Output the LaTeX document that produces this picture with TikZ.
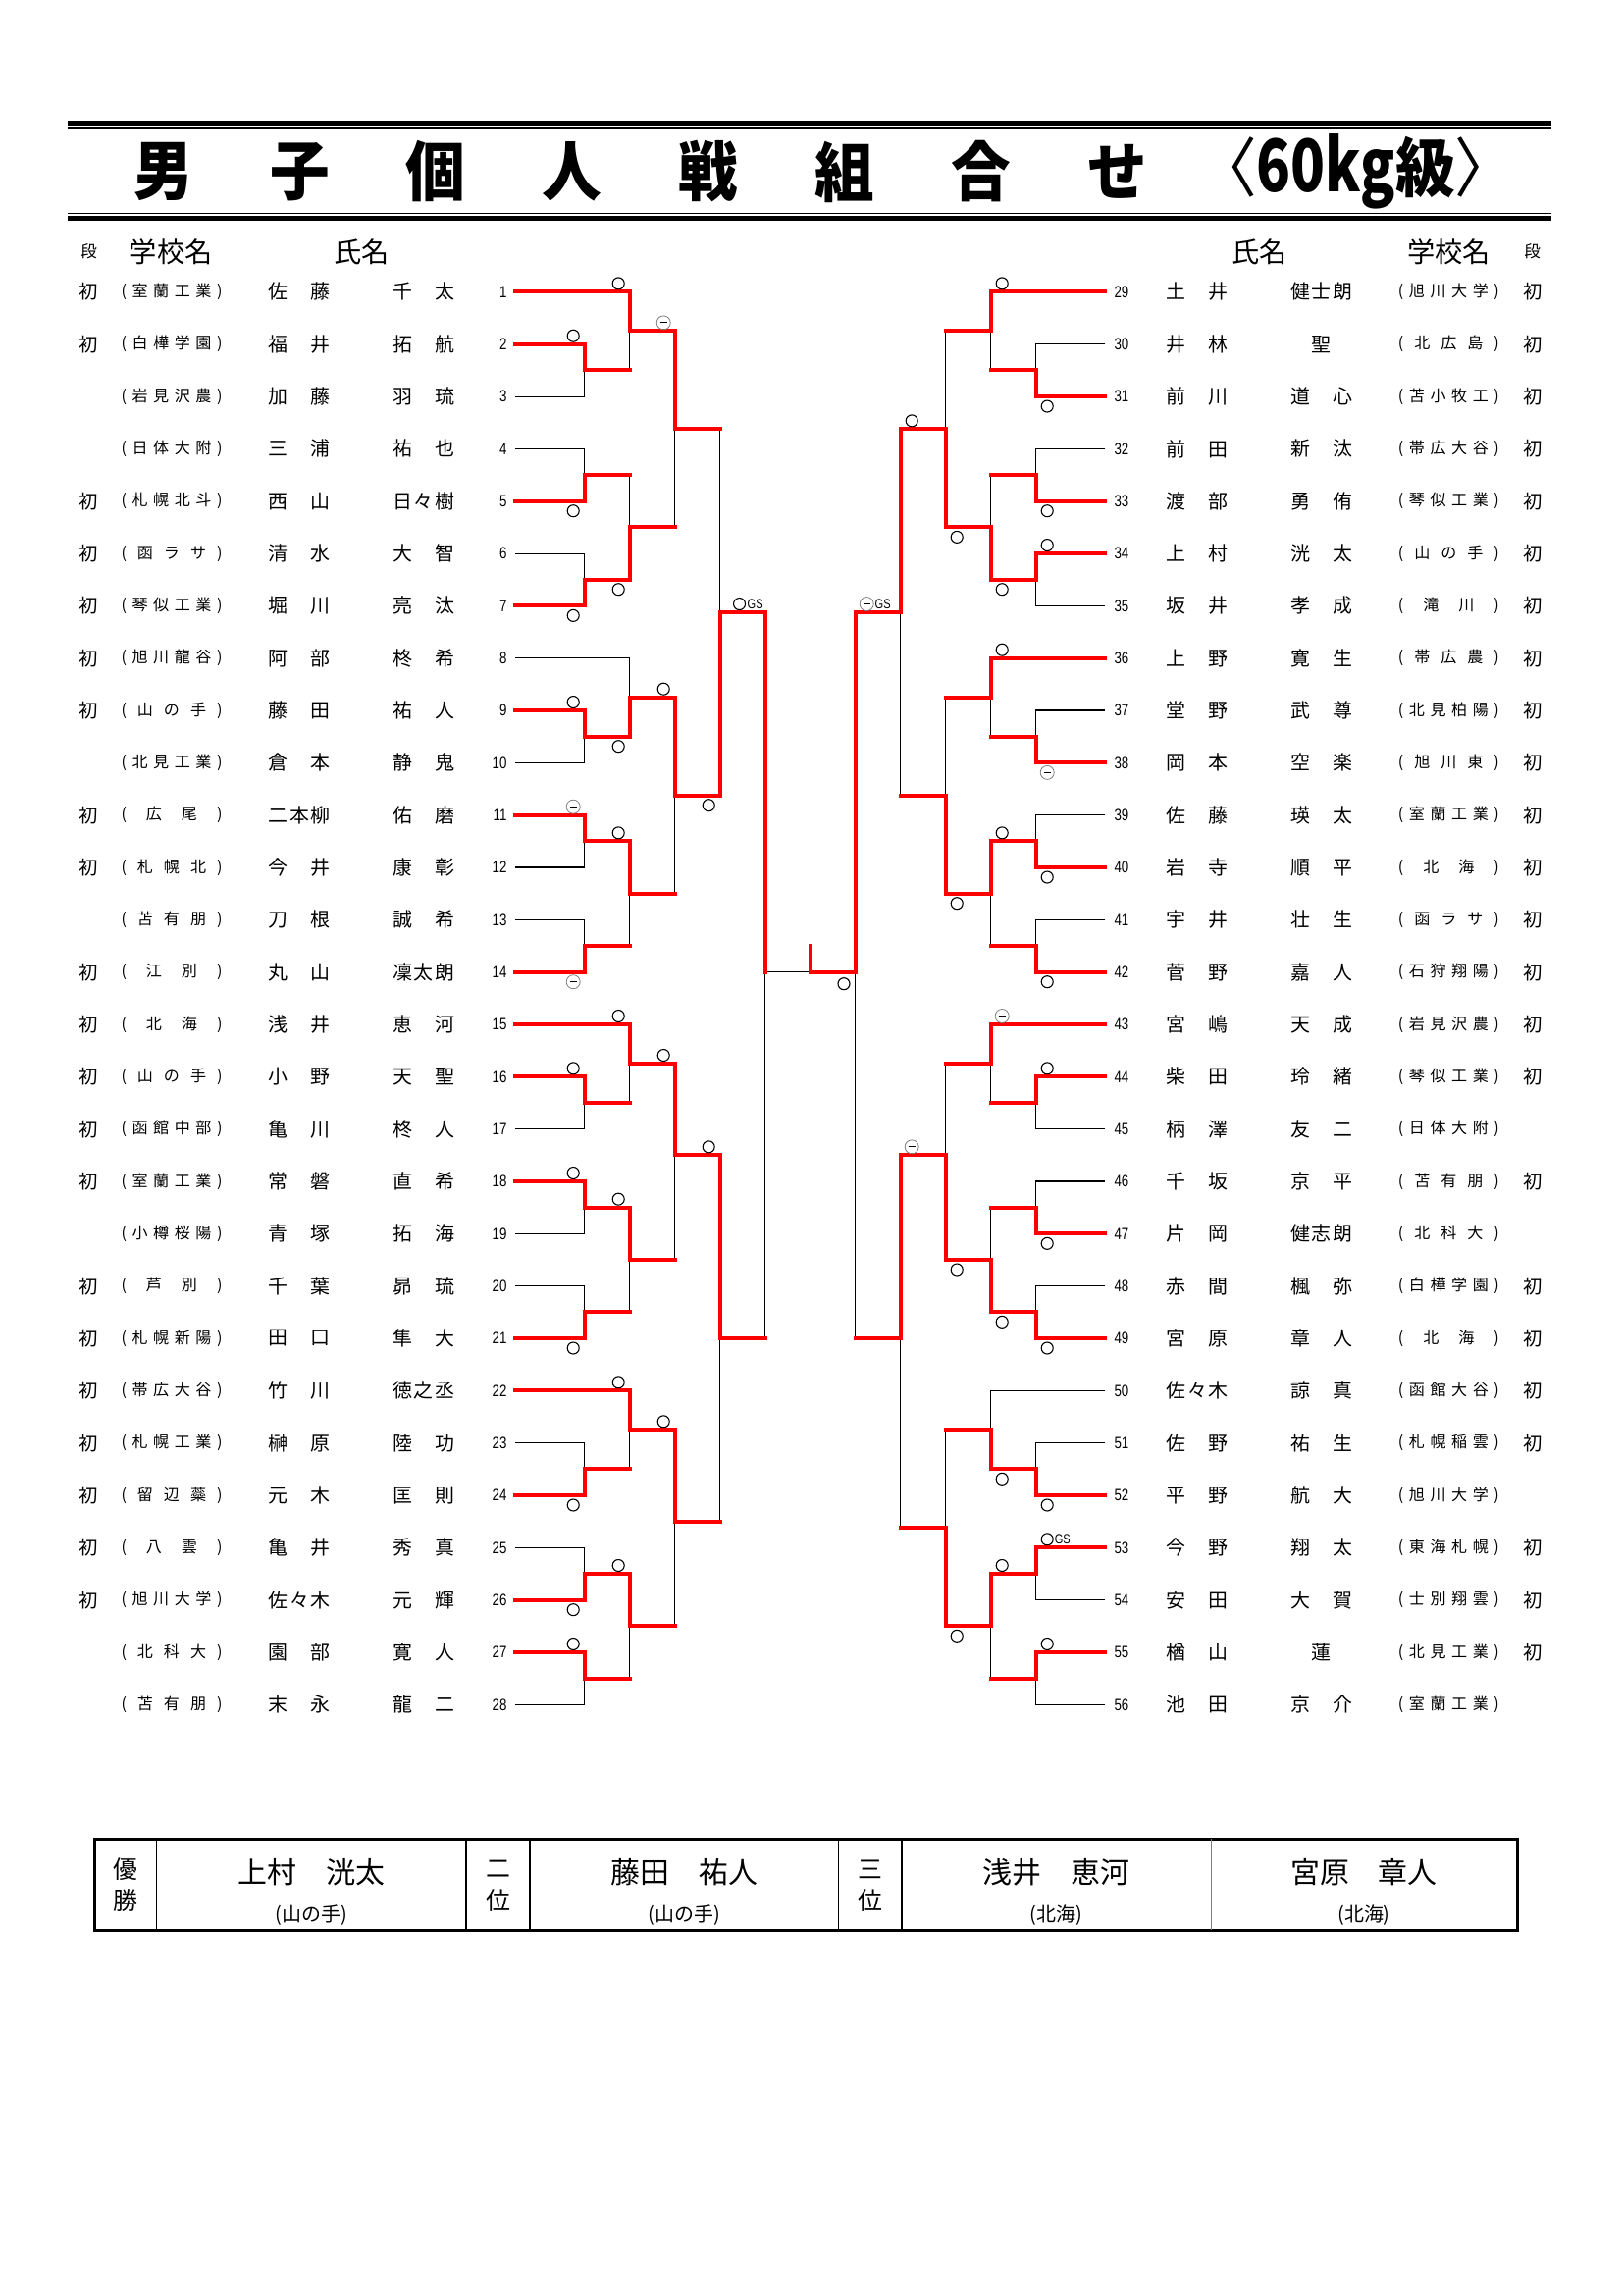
\documentclass[tikz,border=0pt]{standalone}
\usepackage{fontspec}
\usepackage{graphicx}
\setmainfont{Noto Sans CJK JP}
\newfontfamily\numfont[FakeStretch=0.8]{Liberation Sans}
\newfontfamily\titlefont[FakeStretch=0.92]{Noto Sans CJK JP}
\usetikzlibrary{calc,positioning}
\newdimen\px \px=0.12697mm
\newcommand{\Y}[1]{297.4+53.33*(#1-1)}
\newcommand{\wincolor}{red}
\newcommand{\thickred}{4\px}
\newcommand{\thinblack}{1.1\px}
\def\spread#1{\spreadi#1\spreadend}
\def\spreadi#1#2\spreadend{#1\ifx\relax#2\relax\else\hfill\spreadi#2\spreadend\fi}
\tikzset{
  dan/.style={font=\fontsize{7}{8}\selectfont, inner sep=0pt},
  school/.style={font=\fontsize{5.8}{7}\selectfont, inner sep=0pt},
  pname/.style={font=\fontsize{7.2}{8}\selectfont, inner sep=0pt},
  num/.style={font=\numfont\fontsize{6}{7}\selectfont, inner sep=0pt},
  head/.style={font=\fontsize{10.2}{11}\selectfont, inner sep=0pt},
  headsmall/.style={font=\fontsize{6}{7}\selectfont, inner sep=0pt},
  ttl/.style={font=\titlefont\bfseries\fontsize{23.8}{26}\selectfont, inner sep=0pt},
  tname/.style={font=\fontsize{10.8}{12}\selectfont, inner sep=0pt},
  tschool/.style={font=\fontsize{7.2}{8}\selectfont, inner sep=0pt},
  tlab/.style={font=\fontsize{9}{10}\selectfont, inner sep=0pt},
  bline/.style={line width=\thinblack},
  rline/.style={\wincolor, line width=\thickred, line join=miter, line cap=rect},
  markc/.style={circle, draw, line width=1.1\px, inner sep=0pt, minimum size=12\px},
  markm/.style={circle, draw=gray, line width=0.8\px, inner sep=0pt, minimum size=14\px,
    path picture={\draw[black, line width=1.2\px] ([xshift=-3.5\px]path picture bounding box.center) -- ([xshift=3.5\px]path picture bounding box.center);}},
  gs/.style={font=\numfont\fontsize{5}{6}\selectfont, inner sep=0pt},
  wl/.style={xshift=-11.5\px}, wr/.style={xshift=11.5\px},
  wup/.style={yshift=8.5\px}, wdn/.style={yshift=-10\px}
}
\newcommand{\leftrow}[5]{%
  \node[dan] (d#1) at (90,{\Y{#1}}) {#2};
  \node[school] (s#1) at (175,{\Y{#1}}) {\makebox[103\px]{(\hfill\spread{#3}\hfill)}};
  \node[pname] (f#1) at (305,{\Y{#1}}) {\makebox[63.4\px]{\hfil\spread{#4}\hfil}};
  \node[pname] (g#1) at (431.7,{\Y{#1}}) {\makebox[63.4\px]{\hfil\spread{#5}\hfil}};
  \node[num, anchor=east] (n#1) at (517,{\Y{#1}}) {#1};
  \coordinate (p#1) at (525,{\Y{#1}});
}
\newcommand{\rightrow}[5]{%
  \node[num, anchor=west] (n#1) at (1135,{\Y{#1-28}}) {#1};
  \coordinate (p#1) at (1126.4,{\Y{#1-28}});
  \node[pname] (f#1) at (1220,{\Y{#1-28}}) {\makebox[63.4\px]{\hfil\spread{#2}\hfil}};
  \node[pname] (g#1) at (1346.7,{\Y{#1-28}}) {\makebox[63.4\px]{\hfil\spread{#3}\hfil}};
  \node[school] (s#1) at (1476.4,{\Y{#1-28}}) {\makebox[103\px]{(\hfill\spread{#4}\hfill)}};
  \node[dan] (d#1) at (1561.7,{\Y{#1-28}}) {#5};
}

\begin{document}
\begin{tikzpicture}[x=0.12697mm, y=-0.12697mm]
\fill[white] (0,0) rectangle (1654,2339);
\useasboundingbox (0,0) rectangle (1654,2339);
%title
\draw[line width=4.5\px] (69.3,125.3) -- (1580.7,125.3);
\draw[line width=1.5\px] (69.3,130.2) -- (1580.7,130.2);
\draw[line width=1.5\px] (69.3,217.7) -- (1580.7,217.7);
\draw[line width=4.8\px] (69.3,222.8) -- (1580.7,222.8);
\node[ttl] (t1) at (167,175) {男};
\node[ttl] (t2) at (306,175) {子};
\node[ttl] (t3) at (444,175) {個};
\node[ttl] (t4) at (583,175) {人};
\node[ttl] (t5) at (722,175) {戦};
\node[ttl] (t6) at (861,175) {組};
\node[ttl] (t7) at (1000,175) {合};
\node[ttl] (t8) at (1139,175) {せ};
\node[ttl] (t9) at (1381.7,175) {{\mdseries〈}\scalebox{0.95}[1.12]{60kg}級{\mdseries〉}};
%heads
\node[headsmall] (h1) at (90.7,256.7) {段};
\node[head] (h2) at (174.3,256.7) {学校名};
\node[head] (h3) at (368.3,256.7) {氏名};
\node[head] (h4) at (1283.3,256.7) {氏名};
\node[head] (h5) at (1476.7,256.7) {学校名};
\node[headsmall] (h6) at (1561.7,256.7) {段};
%left
\leftrow{1}{初}{室蘭工業}{佐藤}{千太}
\leftrow{2}{初}{白樺学園}{福井}{拓航}
\leftrow{3}{}{岩見沢農}{加藤}{羽琉}
\leftrow{4}{}{日体大附}{三浦}{祐也}
\leftrow{5}{初}{札幌北斗}{西山}{日々樹}
\leftrow{6}{初}{函ラサ}{清水}{大智}
\leftrow{7}{初}{琴似工業}{堀川}{亮汰}
\leftrow{8}{初}{旭川龍谷}{阿部}{柊希}
\leftrow{9}{初}{山の手}{藤田}{祐人}
\leftrow{10}{}{北見工業}{倉本}{静鬼}
\leftrow{11}{初}{広尾}{二本柳}{佑磨}
\leftrow{12}{初}{札幌北}{今井}{康彰}
\leftrow{13}{}{苫有朋}{刀根}{誠希}
\leftrow{14}{初}{江別}{丸山}{凜太朗}
\leftrow{15}{初}{北海}{浅井}{恵河}
\leftrow{16}{初}{山の手}{小野}{天聖}
\leftrow{17}{初}{函館中部}{亀川}{柊人}
\leftrow{18}{初}{室蘭工業}{常磐}{直希}
\leftrow{19}{}{小樽桜陽}{青塚}{拓海}
\leftrow{20}{初}{芦別}{千葉}{昴琉}
\leftrow{21}{初}{札幌新陽}{田口}{隼大}
\leftrow{22}{初}{帯広大谷}{竹川}{徳之丞}
\leftrow{23}{初}{札幌工業}{榊原}{陸功}
\leftrow{24}{初}{留辺蘂}{元木}{匡則}
\leftrow{25}{初}{八雲}{亀井}{秀真}
\leftrow{26}{初}{旭川大学}{佐々木}{元輝}
\leftrow{27}{}{北科大}{園部}{寛人}
\leftrow{28}{}{苫有朋}{末永}{龍二}
%right
\rightrow{29}{土井}{健士朗}{旭川大学}{初}
\rightrow{30}{井林}{聖}{北広島}{初}
\rightrow{31}{前川}{道心}{苫小牧工}{初}
\rightrow{32}{前田}{新汰}{帯広大谷}{初}
\rightrow{33}{渡部}{勇侑}{琴似工業}{初}
\rightrow{34}{上村}{洸太}{山の手}{初}
\rightrow{35}{坂井}{孝成}{滝川}{初}
\rightrow{36}{上野}{寛生}{帯広農}{初}
\rightrow{37}{堂野}{武尊}{北見柏陽}{初}
\rightrow{38}{岡本}{空楽}{旭川東}{初}
\rightrow{39}{佐藤}{瑛太}{室蘭工業}{初}
\rightrow{40}{岩寺}{順平}{北海}{初}
\rightrow{41}{宇井}{壮生}{函ラサ}{初}
\rightrow{42}{菅野}{嘉人}{石狩翔陽}{初}
\rightrow{43}{宮嶋}{天成}{岩見沢農}{初}
\rightrow{44}{柴田}{玲緒}{琴似工業}{初}
\rightrow{45}{柄澤}{友二}{日体大附}{}
\rightrow{46}{千坂}{京平}{苫有朋}{初}
\rightrow{47}{片岡}{健志朗}{北科大}{}
\rightrow{48}{赤間}{楓弥}{白樺学園}{初}
\rightrow{49}{宮原}{章人}{北海}{初}
\rightrow{50}{佐々木}{諒真}{函館大谷}{初}
\rightrow{51}{佐野}{祐生}{札幌稲雲}{初}
\rightrow{52}{平野}{航大}{旭川大学}{}
\rightrow{53}{今野}{翔太}{東海札幌}{初}
\rightrow{54}{安田}{大賀}{士別翔雲}{初}
\rightrow{55}{楢山}{蓮}{北見工業}{初}
\rightrow{56}{池田}{京介}{室蘭工業}{}
%junctions left
\coordinate (A1) at (595.7,{\Y{2.5}});
\coordinate (A2) at (641.7,{\Y{1.75}});
\coordinate (A3) at (595.7,{\Y{4.5}});
\coordinate (A4) at (595.7,{\Y{6.5}});
\coordinate (A5) at (641.7,{\Y{5.5}});
\coordinate (A6) at (687.7,{\Y{3.625}});
\coordinate (B1) at (595.7,{\Y{9.5}});
\coordinate (B2) at (641.7,{\Y{8.75}});
\coordinate (B3) at (595.7,{\Y{11.5}});
\coordinate (B4) at (595.7,{\Y{13.5}});
\coordinate (B5) at (641.7,{\Y{12.5}});
\coordinate (B6) at (687.7,{\Y{10.625}});
\coordinate (C1) at (595.7,{\Y{16.5}});
\coordinate (C2) at (641.7,{\Y{15.75}});
\coordinate (C3) at (595.7,{\Y{18.5}});
\coordinate (C4) at (595.7,{\Y{20.5}});
\coordinate (C5) at (641.7,{\Y{19.5}});
\coordinate (C6) at (687.7,{\Y{17.5}});
\coordinate (D1) at (595.7,{\Y{23.5}});
\coordinate (D2) at (641.7,{\Y{22.75}});
\coordinate (D3) at (595.7,{\Y{25.5}});
\coordinate (D4) at (595.7,{\Y{27.5}});
\coordinate (D5) at (641.7,{\Y{26.5}});
\coordinate (D6) at (687.7,{\Y{24.5}});
\coordinate (AB) at (733.7,{\Y{7.125}});
\coordinate (CD) at (733.7,{\Y{21}});
\coordinate (L) at (779.7,{\Y{14}});
%junctions right
\coordinate (E1) at (1055.7,{\Y{2.5}});
\coordinate (E2) at (1009.7,{\Y{1.75}});
\coordinate (E3) at (1055.7,{\Y{4.5}});
\coordinate (E4) at (1055.7,{\Y{6.5}});
\coordinate (E5) at (1009.7,{\Y{5.5}});
\coordinate (E6) at (963.7,{\Y{3.625}});
\coordinate (F1) at (1055.7,{\Y{9.5}});
\coordinate (F2) at (1009.7,{\Y{8.75}});
\coordinate (F3) at (1055.7,{\Y{11.5}});
\coordinate (F4) at (1055.7,{\Y{13.5}});
\coordinate (F5) at (1009.7,{\Y{12.5}});
\coordinate (F6) at (963.7,{\Y{10.625}});
\coordinate (G1) at (1055.7,{\Y{16.5}});
\coordinate (G2) at (1009.7,{\Y{15.75}});
\coordinate (G3) at (1055.7,{\Y{18.5}});
\coordinate (G4) at (1055.7,{\Y{20.5}});
\coordinate (G5) at (1009.7,{\Y{19.5}});
\coordinate (G6) at (963.7,{\Y{17.5}});
\coordinate (H1) at (1055.7,{\Y{23.5}});
\coordinate (H2) at (1009.7,{\Y{22.75}});
\coordinate (H3) at (1055.7,{\Y{25.5}});
\coordinate (H4) at (1055.7,{\Y{27.5}});
\coordinate (H5) at (1009.7,{\Y{26.5}});
\coordinate (H6) at (963.7,{\Y{24.625}});
\coordinate (EF) at (917.7,{\Y{7.125}});
\coordinate (GH) at (917.7,{\Y{21}});
\coordinate (R) at (871.7,{\Y{14}});
\coordinate (final) at (825.7,{\Y{14}});
\coordinate (crown) at (825.7,{\Y{14}-27});
%black lines
\draw[bline] (p2) -| (A1) |- (p3);
\draw[bline] (p1) -| (A2) |- (A1);
\draw[bline] (p4) -| (A3) |- (p5);
\draw[bline] (p6) -| (A4) |- (p7);
\draw[bline] (A3) -| (A5) |- (A4);
\draw[bline] (A2) -| (A6) |- (A5);
\draw[bline] (p9) -| (B1) |- (p10);
\draw[bline] (p8) -| (B2) |- (B1);
\draw[bline] (p11) -| (B3) |- (p12);
\draw[bline] (p13) -| (B4) |- (p14);
\draw[bline] (B3) -| (B5) |- (B4);
\draw[bline] (B2) -| (B6) |- (B5);
\draw[bline] (p16) -| (C1) |- (p17);
\draw[bline] (p15) -| (C2) |- (C1);
\draw[bline] (p18) -| (C3) |- (p19);
\draw[bline] (p20) -| (C4) |- (p21);
\draw[bline] (C3) -| (C5) |- (C4);
\draw[bline] (C2) -| (C6) |- (C5);
\draw[bline] (p23) -| (D1) |- (p24);
\draw[bline] (p22) -| (D2) |- (D1);
\draw[bline] (p25) -| (D3) |- (p26);
\draw[bline] (p27) -| (D4) |- (p28);
\draw[bline] (D3) -| (D5) |- (D4);
\draw[bline] (D2) -| (D6) |- (D5);
\draw[bline] (A6) -| (AB) |- (B6);
\draw[bline] (C6) -| (CD) |- (D6);
\draw[bline] (AB) -| (L) |- (CD);
\draw[bline] (p30) -| (E1) |- (p31);
\draw[bline] (p29) -| (E2) |- (E1);
\draw[bline] (p32) -| (E3) |- (p33);
\draw[bline] (p34) -| (E4) |- (p35);
\draw[bline] (E3) -| (E5) |- (E4);
\draw[bline] (E2) -| (E6) |- (E5);
\draw[bline] (p37) -| (F1) |- (p38);
\draw[bline] (p36) -| (F2) |- (F1);
\draw[bline] (p39) -| (F3) |- (p40);
\draw[bline] (p41) -| (F4) |- (p42);
\draw[bline] (F3) -| (F5) |- (F4);
\draw[bline] (F2) -| (F6) |- (F5);
\draw[bline] (p44) -| (G1) |- (p45);
\draw[bline] (p43) -| (G2) |- (G1);
\draw[bline] (p46) -| (G3) |- (p47);
\draw[bline] (p48) -| (G4) |- (p49);
\draw[bline] (G3) -| (G5) |- (G4);
\draw[bline] (G2) -| (G6) |- (G5);
\draw[bline] (p51) -| (H1) |- (p52);
\draw[bline] (p50) -| (H2) |- (H1);
\draw[bline] (p53) -| (H3) |- (p54);
\draw[bline] (p55) -| (H4) |- (p56);
\draw[bline] (H3) -| (H5) |- (H4);
\draw[bline] (H2) -| (H6) |- (H5);
\draw[bline] (E6) -| (EF) |- (F6);
\draw[bline] (G6) -| (GH) |- (H6);
\draw[bline] (EF) -| (R) |- (GH);
\draw[bline] (L) -- (final) -- (R);
%red lines left
\draw[rline] (p1) -| (A2) -| (A6) -- (A6 -| AB);
\draw[rline] (p2) -| (A1) -- (A1 -| A2);
\draw[rline] (p5) -| (A3) -- (A3 -| A5);
\draw[rline] (p7) -| (A4) -| (A5) -- (A5 -| A6);
\draw[rline] (p9) -| (B1) -| (B2) -| (B6) -| (AB) -| (L);
\draw[rline] (p11) -| (B3) -| (B5) -- (B5 -| B6);
\draw[rline] (p14) -| (B4) -- (B4 -| B5);
\draw[rline] (p15) -| (C2) -| (C6) -| (CD) -- (CD -| L);
\draw[rline] (p16) -| (C1) -- (C1 -| C2);
\draw[rline] (p18) -| (C3) -| (C5) -- (C5 -| C6);
\draw[rline] (p21) -| (C4) -- (C4 -| C5);
\draw[rline] (p22) -| (D2) -| (D6) -- (D6 -| CD);
\draw[rline] (p24) -| (D1) -- (D1 -| D2);
\draw[rline] (p26) -| (D3) -| (D5) -- (D5 -| D6);
\draw[rline] (p27) -| (D4) -- (D4 -| D5);
%red lines right
\draw[rline] (p29) -| (E2) -- (E2 -| E6);
\draw[rline] (p31) -| (E1) -- (E1 -| E2);
\draw[rline] (p33) -| (E3) -- (E3 -| E5);
\draw[rline] (p34) -| (E4) -| (E5) -| (E6) -| (EF) -| (R) -- (final) -- (crown);
\draw[rline] (p36) -| (F2) -- (F2 -| F6);
\draw[rline] (p38) -| (F1) -- (F1 -| F2);
\draw[rline] (p40) -| (F3) -| (F5) -| (F6) -- (F6 -| EF);
\draw[rline] (p42) -| (F4) -- (F4 -| F5);
\draw[rline] (p43) -| (G2) -- (G2 -| G6);
\draw[rline] (p44) -| (G1) -- (G1 -| G2);
\draw[rline] (p47) -| (G3) -- (G3 -| G5);
\draw[rline] (p49) -| (G4) -| (G5) -| (G6) -| (GH) -- (GH -| R);
\draw[rline] (p52) -| (H1) -| (H2) -- (H2 -| H6);
\draw[rline] (p53) -| (H3) -| (H5) -| (H6) -- (H6 -| GH);
\draw[rline] (p55) -| (H4) -- (H4 -| H5);
%marks left
\node[markc,wl,wup] (o1) at (p2 -| A1) {};
\node[markc,wl,wup] (o2) at (p1 -| A2) {};
\node[markc,wl,wdn] (o3) at (p5 -| A3) {};
\node[markc,wl,wdn] (o4) at (p7 -| A4) {};
\node[markc,wl,wdn] (o5) at (A4 -| A5) {};
\node[markm,wl,wup] (o6) at (A2 -| A6) {};
\node[markc,wl,wup] (o7) at (p9 -| B1) {};
\node[markc,wl,wdn] (o8) at (B1 -| B2) {};
\node[markm,wl,wup] (o9) at (p11 -| B3) {};
\node[markm,wl,wdn] (o10) at (p14 -| B4) {};
\node[markc,wl,wup] (o11) at (B3 -| B5) {};
\node[markc,wl,wup] (o12) at (B2 -| B6) {};
\node[markc,wl,wup] (o13) at (p16 -| C1) {};
\node[markc,wl,wup] (o14) at (p15 -| C2) {};
\node[markc,wl,wup] (o15) at (p18 -| C3) {};
\node[markc,wl,wdn] (o16) at (p21 -| C4) {};
\node[markc,wl,wup] (o17) at (C3 -| C5) {};
\node[markc,wl,wup] (o18) at (C2 -| C6) {};
\node[markc,wl,wdn] (o19) at (p24 -| D1) {};
\node[markc,wl,wup] (o20) at (p22 -| D2) {};
\node[markc,wl,wdn] (o21) at (p26 -| D3) {};
\node[markc,wl,wup] (o22) at (p27 -| D4) {};
\node[markc,wl,wup] (o23) at (D3 -| D5) {};
\node[markc,wl,wup] (o24) at (D2 -| D6) {};
\node[markc,wl,wdn] (o25) at (B6 -| AB) {};
\node[markc,wl,wup] (o26) at (C6 -| CD) {};
\node[gs,anchor=east,xshift=-1.5\px,wup] (gs1) at (AB -| L) {GS};
\node[markc,left=1\px of gs1] (o27) {};
%marks right
\node[markc,wr,wdn] (o28) at (p31 -| E1) {};
\node[markc,wr,wup] (o29) at (p29 -| E2) {};
\node[markc,wr,wdn] (o30) at (p33 -| E3) {};
\node[markc,wr,wup] (o31) at (p34 -| E4) {};
\node[markc,wr,wdn] (o32) at (E4 -| E5) {};
\node[markc,wr,wdn] (o33) at (E5 -| E6) {};
\node[markm,wr,wdn] (o34) at (p38 -| F1) {};
\node[markc,wr,wup] (o35) at (p36 -| F2) {};
\node[markc,wr,wdn] (o36) at (p40 -| F3) {};
\node[markc,wr,wdn] (o37) at (p42 -| F4) {};
\node[markc,wr,wup] (o38) at (F3 -| F5) {};
\node[markc,wr,wdn] (o39) at (F5 -| F6) {};
\node[markc,wr,wup] (o40) at (p44 -| G1) {};
\node[markm,wr,wup] (o41) at (p43 -| G2) {};
\node[markc,wr,wdn] (o42) at (p47 -| G3) {};
\node[markc,wr,wdn] (o43) at (p49 -| G4) {};
\node[markc,wr,wdn] (o44) at (G4 -| G5) {};
\node[markc,wr,wdn] (o45) at (G5 -| G6) {};
\node[markc,wr,wdn] (o46) at (p52 -| H1) {};
\node[markc,wr,wdn] (o47) at (H1 -| H2) {};
\node[markc,wr,wup] (o48) at (p53 -| H3) {};
\node[gs,right=0.5\px of o48] (gs2) {GS};
\node[markc,wr,wup] (o49) at (p55 -| H4) {};
\node[markc,wr,wup] (o50) at (H3 -| H5) {};
\node[markc,wr,wdn] (o51) at (H5 -| H6) {};
\node[markc,wr,wup] (o52) at (E6 -| EF) {};
\node[markm,wr,wup] (o53) at (G6 -| GH) {};
\node[markm,wr,wup] (o54) at (EF -| R) {};
\node[gs,right=0.5\px of o54] (gs3) {GS};
\node[markc,xshift=34.3\px,yshift=-12\px] (o55) at (final) {};
%result table
\draw[line width=3\px] (96,1874) rectangle (1546,1967);
\draw[line width=1.5\px] (159.5,1874) -- (159.5,1967);
\draw[line width=1.5\px] (475,1874) -- (475,1967);
\draw[line width=1.5\px] (540,1874) -- (540,1967);
\draw[line width=1.5\px] (854.5,1874) -- (854.5,1967);
\draw[line width=1.5\px] (919,1874) -- (919,1967);
\draw[gray, line width=1\px] (1234,1874) -- (1234,1967);
\node[tlab] (k1) at (127.75,1905) {優};
\node[tlab] (k2) at (127.75,1937) {勝};
\node[tlab] (k3) at (507.5,1905) {二};
\node[tlab] (k4) at (507.5,1937) {位};
\node[tlab] (k5) at (886.75,1905) {三};
\node[tlab] (k6) at (886.75,1937) {位};
\node[tname] (w1) at (317.25,1908) {上村　洸太};
\node[tschool] (w1s) at (317.25,1952) {(山の手)};
\node[tname] (w2) at (697.25,1908) {藤田　祐人};
\node[tschool] (w2s) at (697.25,1952) {(山の手)};
\node[tname] (w3) at (1076.5,1908) {浅井　恵河};
\node[tschool] (w3s) at (1076.5,1952) {(北海)};
\node[tname] (w4) at (1390,1908) {宮原　章人};
\node[tschool] (w4s) at (1390,1952) {(北海)};
\end{tikzpicture}
\end{document}
